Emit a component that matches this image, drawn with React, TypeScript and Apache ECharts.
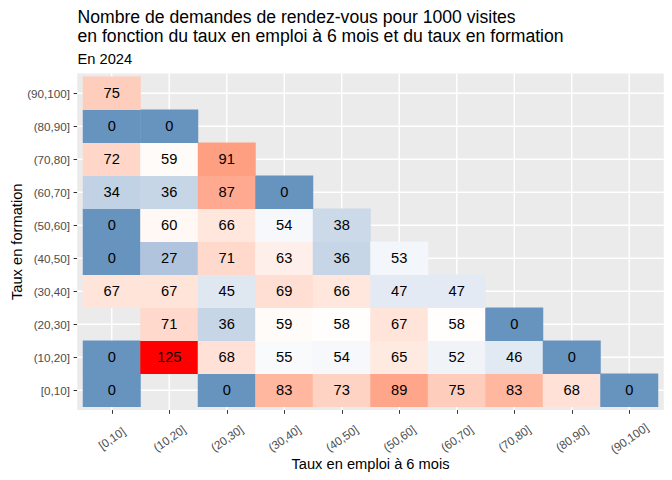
import React, { useEffect, useRef } from "react";
import * as echarts from "echarts";

// ---- Data ----
const emploiCategories = ["[0,10]", "(10,20]", "(20,30]", "(30,40]", "(40,50]", "(50,60]", "(60,70]", "(70,80]", "(80,90]", "(90,100]"];
const formationCategories = ["[0,10]", "(10,20]", "(20,30]", "(30,40]", "(40,50]", "(50,60]", "(60,70]", "(70,80]", "(80,90]", "(90,100]"];

// values per "taux en formation" row, indexed by "taux en emploi" column (null = no cell)
const formation_0_10 = [0, null, 0, 83, 73, 89, 75, 83, 68, 0];
const formation_10_20 = [0, 125, 68, 55, 54, 65, 52, 46, 0, null];
const formation_20_30 = [null, 71, 36, 59, 58, 67, 58, 0, null, null];
const formation_30_40 = [67, 67, 45, 69, 66, 47, 47, null, null, null];
const formation_40_50 = [0, 27, 71, 63, 36, 53, null, null, null, null];
const formation_50_60 = [0, 60, 66, 54, 38, null, null, null, null, null];
const formation_60_70 = [34, 36, 87, 0, null, null, null, null, null, null];
const formation_70_80 = [72, 59, 91, null, null, null, null, null, null, null];
const formation_80_90 = [0, 0, null, null, null, null, null, null, null, null];
const formation_90_100 = [75, null, null, null, null, null, null, null, null, null];

const formationRows = [
  formation_0_10, formation_10_20, formation_20_30, formation_30_40, formation_40_50,
  formation_50_60, formation_60_70, formation_70_80, formation_80_90, formation_90_100,
];

const titleLine1 = "Nombre de demandes de rendez-vous pour 1000 visites";
const titleLine2 = "en fonction du taux en emploi à 6 mois et du taux en formation";
const subtitle = "En 2024";
const xTitle = "Taux en emploi à 6 mois";
const yTitle = "Taux en formation";

// diverging scale (low / mid / high), midpoint
const scaleMidpoint = 57.5;
const scaleMax = 125;
const lowColor = "#4682B4";
const midColor = "#FFFFFF";
const highColor = "#FF0000";

// ---- Lab interpolation helpers (style only) ----
function toLin(c: number) {
  c /= 255;
  return c <= 0.04045 ? c / 12.92 : Math.pow((c + 0.055) / 1.055, 2.4);
}
function fromLin(c: number) {
  const v = c <= 0.0031308 ? 12.92 * c : 1.055 * Math.pow(c, 1 / 2.4) - 0.055;
  return Math.round(Math.min(1, Math.max(0, v)) * 255);
}
function hexToLab(hex: string) {
  const r = toLin(parseInt(hex.slice(1, 3), 16));
  const g = toLin(parseInt(hex.slice(3, 5), 16));
  const b = toLin(parseInt(hex.slice(5, 7), 16));
  const X = (0.4124 * r + 0.3576 * g + 0.1805 * b) / 0.95047;
  const Y = 0.2126 * r + 0.7152 * g + 0.0722 * b;
  const Z = (0.0193 * r + 0.1192 * g + 0.9505 * b) / 1.08883;
  const f = (t: number) => (t > 0.008856 ? Math.cbrt(t) : 7.787 * t + 16 / 116);
  const fx = f(X), fy = f(Y), fz = f(Z);
  return [116 * fy - 16, 500 * (fx - fy), 200 * (fy - fz)];
}
function labToHex(L: number, a: number, bb: number) {
  const fy = (L + 16) / 116;
  const fx = fy + a / 500;
  const fz = fy - bb / 200;
  const inv = (t: number) => (t * t * t > 0.008856 ? t * t * t : (t - 16 / 116) / 7.787);
  const X = inv(fx) * 0.95047, Y = inv(fy), Z = inv(fz) * 1.08883;
  const r = 3.2406 * X - 1.5372 * Y - 0.4986 * Z;
  const g = -0.9689 * X + 1.8758 * Y + 0.0415 * Z;
  const b = 0.0557 * X - 0.204 * Y + 1.057 * Z;
  const h = (v: number) => fromLin(v).toString(16).padStart(2, "0");
  return "#" + h(r) + h(g) + h(b);
}
function gradientStops(n: number) {
  const lo = hexToLab(lowColor), mi = hexToLab(midColor), hi = hexToLab(highColor);
  const out: string[] = [];
  for (let i = 0; i < n; i++) {
    const t = i / (n - 1);
    let A, B, u;
    if (t <= 0.5) { A = lo; B = mi; u = t / 0.5; } else { A = mi; B = hi; u = (t - 0.5) / 0.5; }
    out.push(labToHex(A[0] + (B[0] - A[0]) * u, A[1] + (B[1] - A[1]) * u, A[2] + (B[2] - A[2]) * u));
  }
  return out;
}

const FONT = "'Liberation Sans', Arial, Helvetica, sans-serif";

export default function App() {
  const ref = useRef<HTMLDivElement>(null);
  useEffect(() => {
    if (!ref.current) return;
    const chart = echarts.init(ref.current, undefined, { renderer: "svg" });

    const heatData: number[][] = [];
    formationRows.forEach((row, yi) => {
      row.forEach((v, xi) => {
        if (v !== null && v !== undefined) heatData.push([xi, yi, v as number]);
      });
    });
    const gridData = emploiCategories.map((_, i) => [i, i]);

    const option: any = {
      animation: false,
      backgroundColor: "#FFFFFF",
      textStyle: { fontFamily: FONT },
      grid: {
        left: 83, right: 14, top: 76.8, bottom: 73.2,
        containLabel: false, outerBoundsMode: "none",
      },
      xAxis: {
        type: "category",
        data: emploiCategories,
        position: "bottom",
        offset: 3.3,
        axisLine: { show: false },
        axisTick: { show: true, alignWithLabel: true, length: 3.7, lineStyle: { color: "#333333", width: 1 } },
        splitLine: { show: false },
        axisLabel: {
          interval: 0, rotate: 35, align: "center", verticalAlign: "middle", margin: 28,
          color: "#4D4D4D", fontSize: 11.7, fontFamily: FONT,
        },
      },
      yAxis: {
        type: "category",
        data: formationCategories,
        offset: 5.75,
        axisLine: { show: false },
        axisTick: { show: true, alignWithLabel: true, length: 3.7, lineStyle: { color: "#333333", width: 1 } },
        splitLine: { show: false },
        axisLabel: { interval: 0, margin: 7.2, color: "#4D4D4D", fontSize: 11.7, fontFamily: FONT },
      },
      visualMap: {
        type: "continuous",
        show: false,
        seriesIndex: 2,
        dimension: 2,
        min: scaleMidpoint - (scaleMax - scaleMidpoint),
        max: scaleMax,
        inRange: { color: gradientStops(61) },
      },
      series: [
        {
          type: "custom",
          z: 0,
          silent: true,
          clip: false,
          data: [[0, 0]],
          renderItem: (params: any, api: any) => {
            const cs = params.coordSys;
            const s = api.size([1, 1]);
            const px = s[0] * 0.1, py = s[1] * 0.1;
            return {
              type: "rect",
              shape: { x: cs.x - px, y: cs.y - py, width: cs.width + 2 * px, height: cs.height + 2 * py },
              style: { fill: "#EBEBEB" },
            };
          },
        },
        {
          type: "custom",
          z: 1,
          silent: true,
          clip: false,
          data: gridData,
          renderItem: (params: any, api: any) => {
            const cs = params.coordSys;
            const s = api.size([1, 1]);
            const px = s[0] * 0.1, py = s[1] * 0.1;
            const p = api.coord([api.value(0), api.value(1)]);
            const st = { stroke: "#FFFFFF", lineWidth: 1.4 };
            return {
              type: "group",
              children: [
                { type: "line", shape: { x1: p[0], y1: cs.y - py, x2: p[0], y2: cs.y + cs.height + py }, style: st },
                { type: "line", shape: { x1: cs.x - px, y1: p[1], x2: cs.x + cs.width + px, y2: p[1] }, style: st },
              ],
            };
          },
        },
        {
          type: "heatmap",
          z: 2,
          data: heatData,
          itemStyle: { borderWidth: 0 },
          label: {
            show: true,
            color: "#000000",
            fontSize: 14.67,
            fontFamily: FONT,
            formatter: (p: any) => String(p.value[2]),
          },
          emphasis: { disabled: true },
        },
      ],
      graphic: [
        { type: "text", x: 77.5, y: 16.8, style: { text: titleLine1, font: `17.6px ${FONT}`, fill: "#000000", align: "left", verticalAlign: "middle" } },
        { type: "text", x: 77.5, y: 35.6, style: { text: titleLine2, font: `17.6px ${FONT}`, fill: "#000000", align: "left", verticalAlign: "middle" } },
        { type: "text", x: 77.5, y: 59.4, style: { text: subtitle, font: `14.67px ${FONT}`, fill: "#000000", align: "left", verticalAlign: "middle" } },
        { type: "text", x: 370.5, y: 464.2, style: { text: xTitle, font: `14.67px ${FONT}`, fill: "#000000", align: "center", verticalAlign: "middle" } },
        { type: "text", x: 16.6, y: 241.8, rotation: Math.PI / 2, style: { text: yTitle, font: `14.67px ${FONT}`, fill: "#000000", align: "center", verticalAlign: "middle" } },
      ],
    };
    chart.setOption(option);
    return () => chart.dispose();
  }, []);
  return <div ref={ref} style={{ position: "fixed", left: 0, top: 0, width: 672, height: 480 }} />;
}
